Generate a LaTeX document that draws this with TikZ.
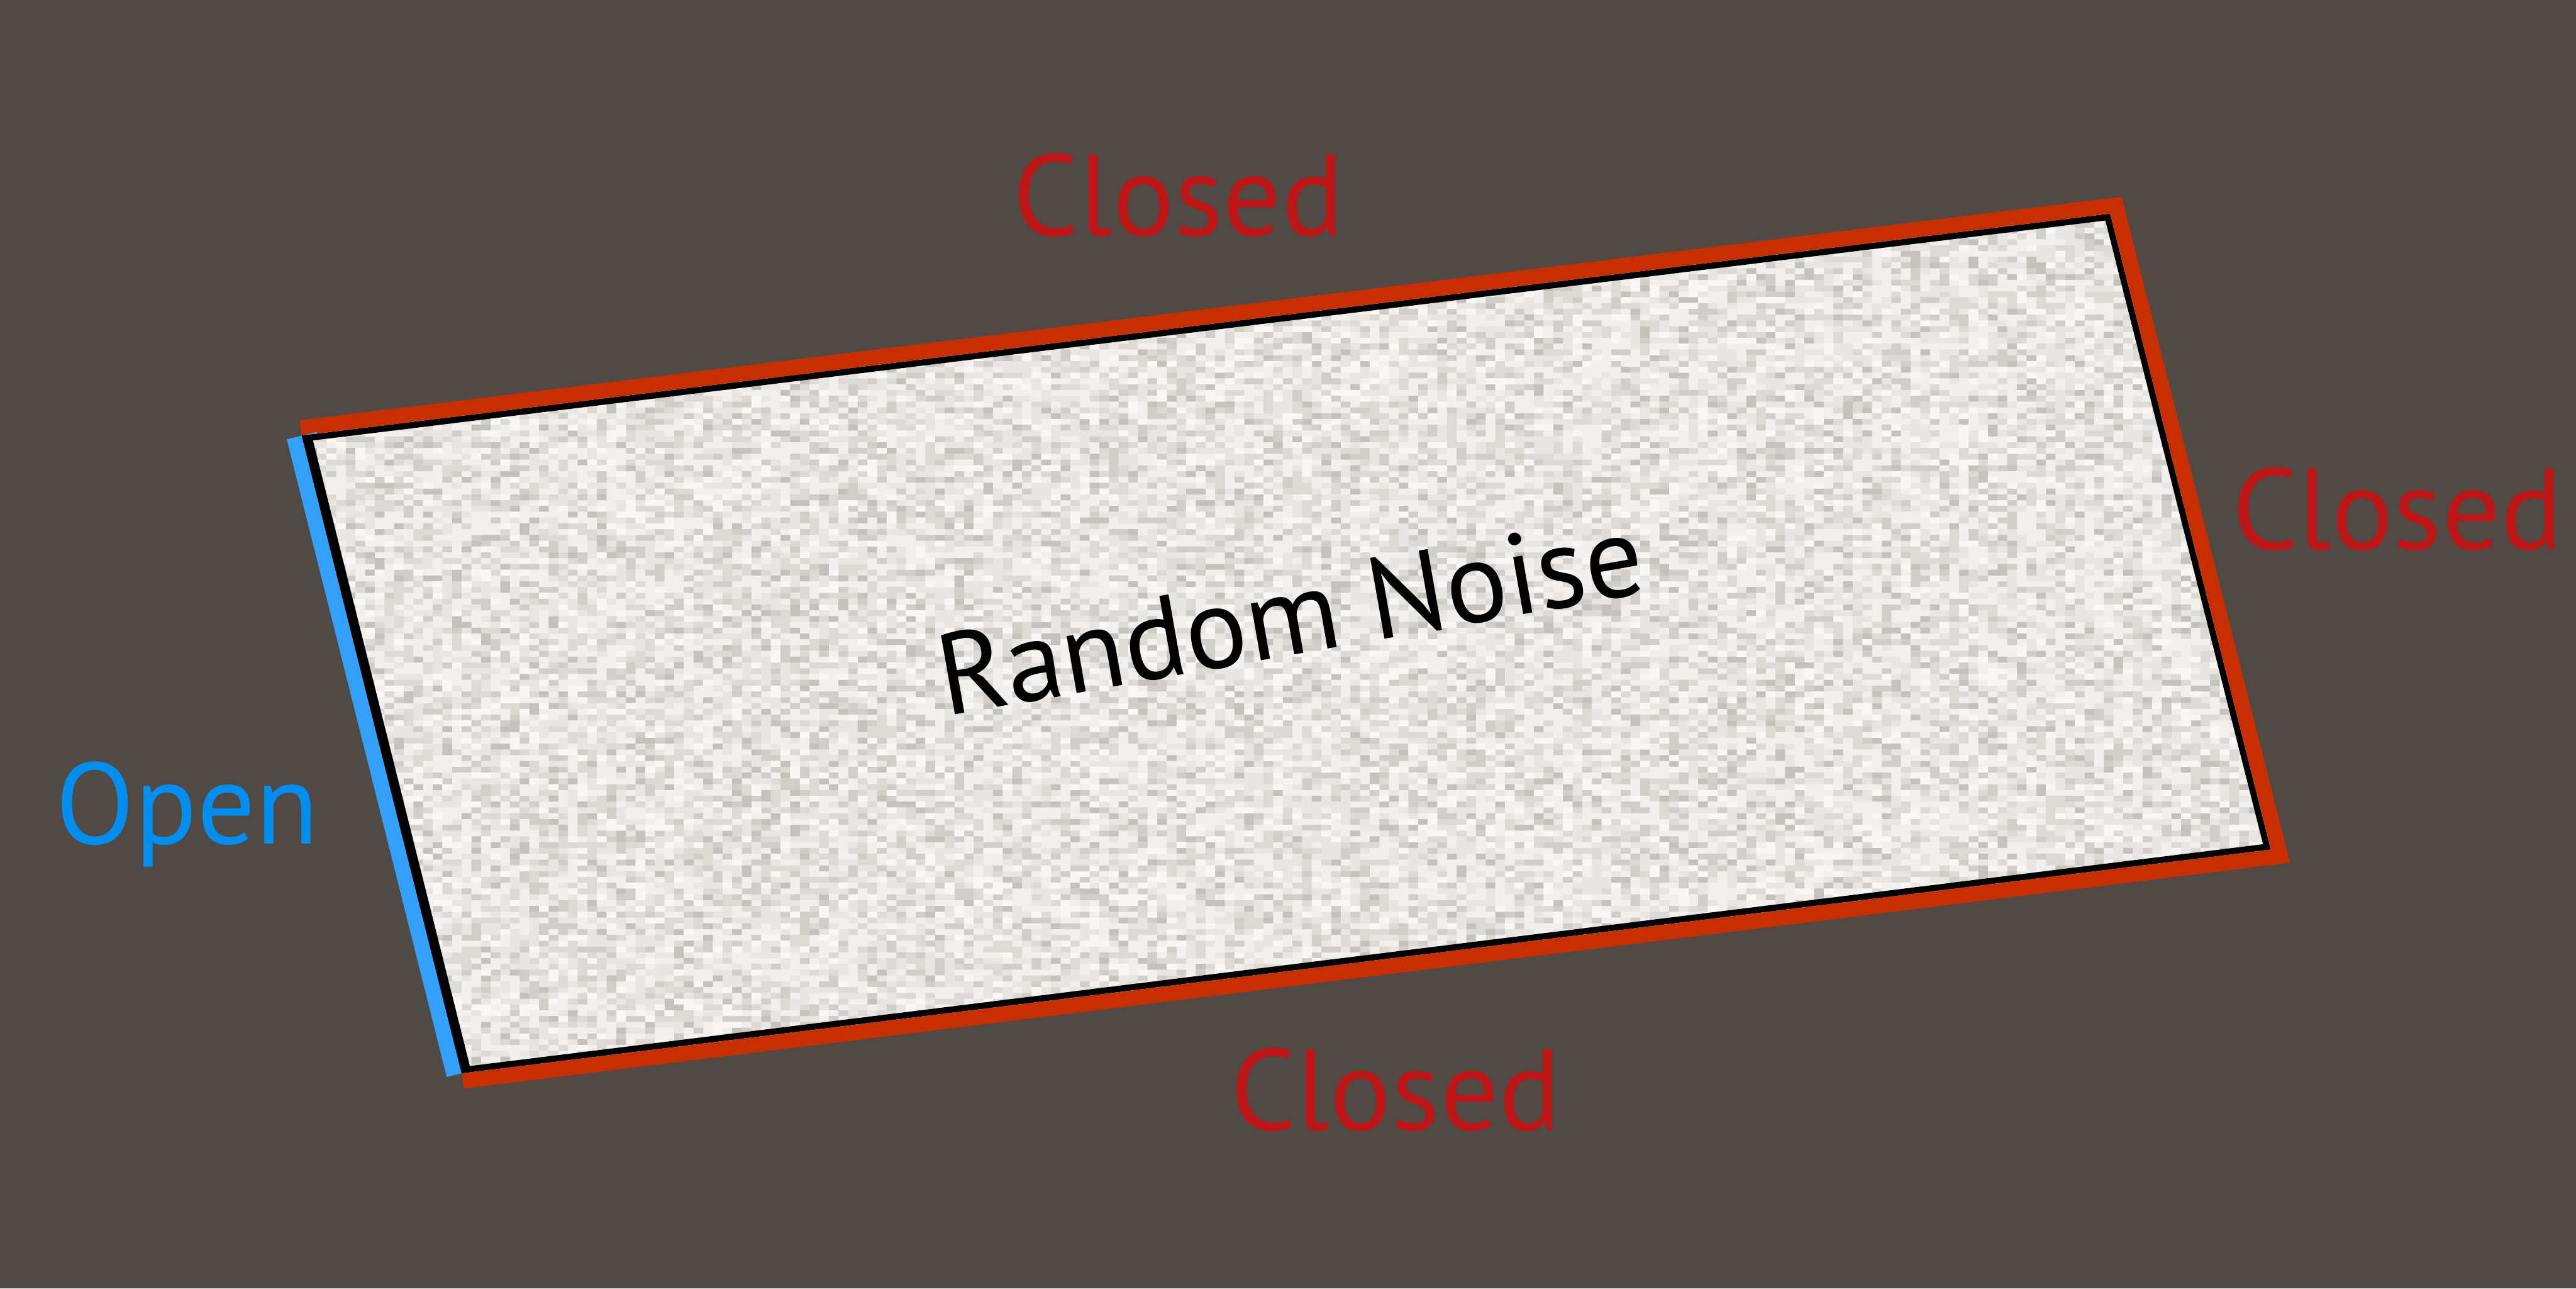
\documentclass[tikz,border=0pt]{standalone}
\usepackage{fontspec}
\setmainfont{PT Sans}
\definecolor{bgc}{HTML}{4F4A45}
\definecolor{barred}{HTML}{C82E00}
\definecolor{barblue}{HTML}{34A0FD}
\definecolor{txtred}{HTML}{BE1516}
\definecolor{txtblue}{HTML}{008FF0}
\definecolor{nbase}{HTML}{F1F0EE}
\definecolor{nA}{HTML}{E8E6E3}
\definecolor{nB}{HTML}{DDDAD6}
\definecolor{nC}{HTML}{D1CEC9}
\definecolor{nD}{HTML}{C5C1BC}
\definecolor{nW}{HTML}{F8F7F5}
\newcount\rs \newcount\rt \newcount\ru \newcount\rv \newcount\ci \newcount\cj
\newcount\nxcells \newcount\nycells \newcount\lo \newcount\hi
\newdimen\nx \newdimen\ny \newdimen\cw \newdimen\chh \newdimen\xzero \newdimen\yzero
\cw=0.25cm \chh=0.15cm \xzero=7.2cm \yzero=5.4cm \nxcells=210 \nycells=152
\def\nextrand{%
  \rt=\rs \divide\rt by 127773
  \ru=\rt \multiply\ru by 127773
  \advance\rs by -\ru
  \multiply\rs by 16807
  \multiply\rt by 2836
  \advance\rs by -\rt
  \ifnum\rs<0 \advance\rs by 2147483647 \fi
  \rv=\rs \divide\rv by 21474837 }
\def\innerloop{%
  \ifnum\ci<\nxcells
    \nextrand
    \ifnum\rv<\hi \ifnum\rv<\lo\else
      \pgfpathrectangle{\pgfqpoint{\nx}{\ny}}{\pgfqpoint{\cw}{\chh}}%
    \fi\fi
    \advance\nx by \cw
    \advance\ci by 1
    \expandafter\innerloop
  \fi}
\def\outerloop{%
  \ifnum\cj<\nycells
    \nx=\xzero \ci=0 \innerloop
    \advance\ny by \chh \advance\cj by 1
    \expandafter\outerloop
  \fi}
\def\noiselayer#1#2#3{%
  \begin{pgfscope}%
  \rs=48271 \lo=#1 \hi=#2
  \ny=\yzero \cj=0
  \outerloop
  \pgfsetfillcolor{#3}\pgfusepath{fill}%
  \end{pgfscope}}
\tikzset{
  lbl/.style={anchor=base, inner sep=0pt, font=\fontsize{85}{100}\selectfont},
  closedlbl/.style={lbl, text=txtred},
  bar/.style={line width=0.8cm, line cap=butt, line join=miter}
}
\begin{document}
\begin{tikzpicture}
\useasboundingbox (0,0) rectangle (66.67,33.34);
\fill[bgc] (0,0) rectangle (66.67,33.34);
\coordinate (TL) at (7.81,22.07);
\coordinate (TR) at (54.61,27.81);
\coordinate (BR) at (58.77,11.36);
\coordinate (BL) at (11.95,5.57);
\draw[bar, barred] (TL) -- (TR) -- (BR) -- (BL);
\draw[bar, barblue] (TL) -- (BL);
\begin{scope}
  \clip (TL) -- (TR) -- (BR) -- (BL) -- cycle;
  \fill[nbase] (7,5) rectangle (60,29);
  \noiselayer{0}{24}{nA}
  \noiselayer{24}{42}{nB}
  \noiselayer{42}{54}{nC}
  \noiselayer{54}{60}{nD}
  \noiselayer{60}{70}{nW}
  \draw[line width=0.32cm] (TL) -- (TR) -- (BR) -- (BL) -- cycle;
  \draw[line width=0.5cm] (TL) -- (BL);
\end{scope}
\node[closedlbl] (ctop) at (30.50,27.24) {Closed};
\node[closedlbl] (cright) at (62.05,19.12) {Closed};
\node[closedlbl] (cbottom) at (36.12,4.10) {Closed};
\node[lbl, text=txtblue] (open) at (4.85,11.51) {Open};
\node[lbl, text=black, rotate=10] (noise) at (33.57,16.41) {Random Noise};
\end{tikzpicture}
\end{document}
